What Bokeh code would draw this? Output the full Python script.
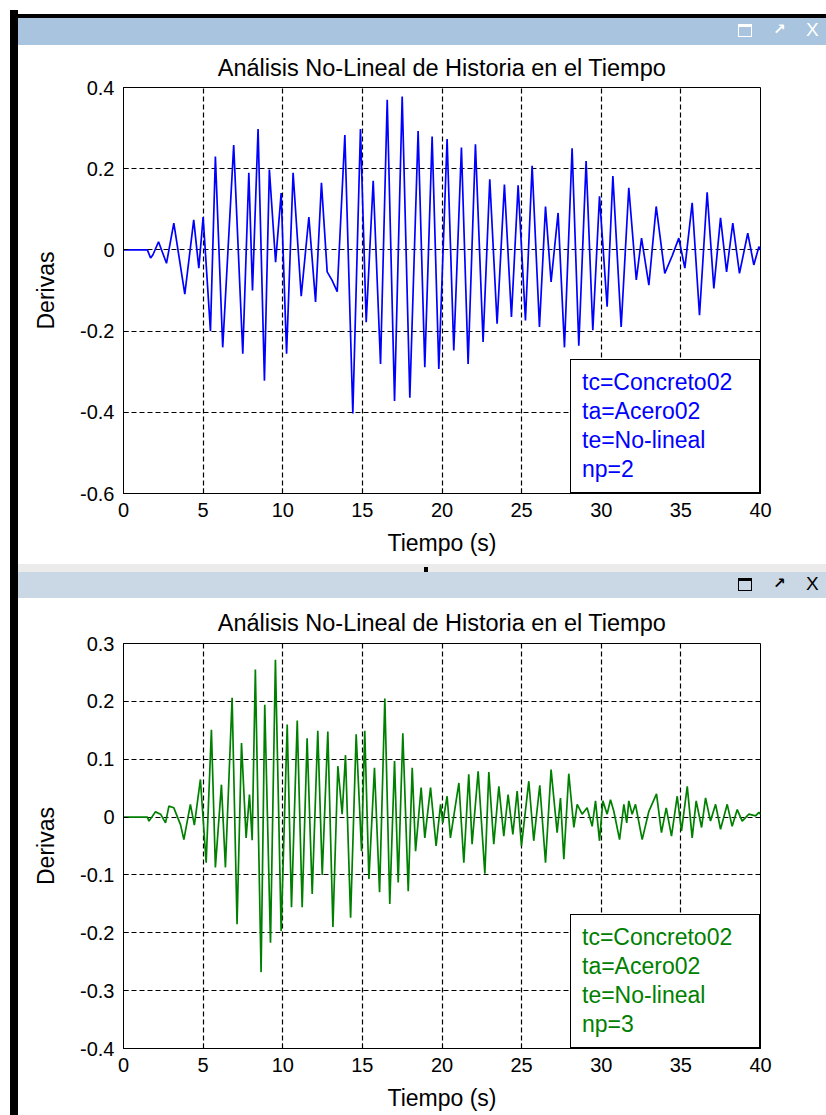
from bokeh.plotting import figure
from bokeh.models import Range1d, FixedTicker, Legend, LegendItem, Div
from bokeh.layouts import column, row
from bokeh.embed import file_html
from bokeh.resources import INLINE

FONT = "Liberation Sans"

# ---------------- data ----------------
time_top = [0.0, 1.5, 1.7, 1.85, 2.2, 2.7, 3.16, 3.85, 4.41, 4.73, 5.0, 5.46, 5.77, 6.23, 6.92,
            7.49, 7.87, 8.1, 8.45, 8.85, 9.16, 9.55, 9.9, 10.24, 10.65, 11.16, 11.64, 12.06,
            12.43, 12.79, 13.1, 13.42, 13.9, 14.4, 14.88, 15.24, 15.68, 16.14, 16.56, 17.02,
            17.5, 17.98, 18.5, 18.92, 19.38, 19.8, 20.32, 20.74, 21.22, 21.64, 22.1, 22.58,
            23.0, 23.46, 23.92, 24.36, 24.78, 25.24, 25.66, 26.12, 26.5, 26.85, 27.29, 27.69,
            28.17, 28.59, 29.05, 29.47, 29.89, 30.37, 30.73, 31.25, 31.73, 32.2, 32.53, 32.99,
            33.45, 33.99, 34.45, 34.87, 35.25, 35.71, 36.17, 36.65, 37.07, 37.49, 37.87, 38.26,
            38.68, 39.2, 39.58, 39.9, 40.0]
drift_top = [0.0, 0.0, -0.02, -0.012, 0.02, -0.033, 0.066, -0.109, 0.074, -0.045, 0.081, -0.2,
             0.23, -0.24, 0.258, -0.256, 0.19, -0.1, 0.298, -0.322, 0.198, -0.03, 0.14, -0.256,
             0.19, -0.114, 0.081, -0.128, 0.165, -0.054, -0.075, -0.103, 0.283, -0.403, 0.298,
             -0.178, 0.17, -0.281, 0.37, -0.372, 0.378, -0.364, 0.293, -0.289, 0.279, -0.293,
             0.273, -0.248, 0.252, -0.281, 0.26, -0.227, 0.174, -0.182, 0.161, -0.165, 0.159,
             -0.174, 0.207, -0.19, 0.107, -0.079, 0.091, -0.24, 0.25, -0.236, 0.219, -0.198,
             0.132, -0.14, 0.182, -0.19, 0.153, -0.074, 0.029, -0.087, 0.107, -0.058, -0.015,
             0.029, -0.045, 0.116, -0.161, 0.142, -0.095, 0.079, -0.054, 0.066, -0.058, 0.041,
             -0.037, 0.008, 0.0]

time_bottom = [0.0, 1.5, 1.6, 2.01, 2.33, 2.64, 2.85, 3.16, 3.58, 3.79, 4.2, 4.45, 4.83, 5.19,
               5.52, 5.77, 6.15, 6.4, 6.82, 7.13, 7.41, 7.7, 7.91, 8.08, 8.28, 8.64, 8.87, 9.23,
               9.54, 9.9, 10.28, 10.55, 10.91, 11.22, 11.53, 11.85, 12.2, 12.48, 12.83, 13.15,
               13.46, 13.73, 13.94, 14.26, 14.61, 14.95, 15.15, 15.41, 15.76, 16.08, 16.41,
               16.72, 17.02, 17.25, 17.54, 17.88, 18.13, 18.34, 18.69, 18.92, 19.28, 19.63,
               19.91, 20.05, 20.32, 20.53, 21.06, 21.37, 21.68, 21.89, 22.27, 22.69, 22.94,
               23.25, 23.57, 23.88, 24.15, 24.45, 24.72, 24.99, 25.45, 25.76, 26.14, 26.5,
               26.85, 27.23, 27.44, 27.65, 27.96, 28.28, 28.49, 28.8, 29.11, 29.43, 29.64,
               29.89, 30.1, 30.37, 30.58, 30.79, 31.15, 31.42, 31.6, 31.73, 31.94, 32.15,
               32.57, 32.99, 33.47, 33.78, 34.08, 34.41, 34.77, 35.04, 35.4, 35.71, 35.96,
               36.3, 36.55, 36.86, 37.18, 37.49, 37.91, 38.22, 38.54, 38.85, 39.27, 39.69,
               39.9, 40.0]
drift_bottom = [0.0, 0.0, -0.007, 0.009, 0.005, -0.01, 0.019, 0.016, -0.013, -0.039, 0.022,
                -0.014, 0.065, -0.079, 0.151, -0.087, 0.056, -0.087, 0.206, -0.185, 0.128,
                -0.036, 0.039, -0.04, 0.255, -0.268, 0.194, -0.217, 0.272, -0.197, 0.16, -0.156,
                0.167, -0.156, 0.136, -0.133, 0.149, -0.1, 0.148, -0.19, 0.088, 0.005, 0.107,
                -0.174, 0.143, -0.059, 0.149, -0.107, 0.085, -0.13, 0.205, -0.15, 0.097, -0.113,
                0.145, -0.128, 0.085, -0.059, 0.051, -0.036, 0.051, -0.05, 0.022, -0.01, 0.036,
                -0.036, 0.059, -0.079, 0.074, -0.047, 0.079, -0.098, 0.078, -0.047, 0.053,
                -0.033, 0.039, -0.03, 0.045, -0.05, 0.062, -0.041, 0.055, -0.079, 0.082,
                -0.027, 0.033, -0.073, 0.075, -0.018, 0.022, 0.005, 0.016, -0.016, 0.028,
                -0.041, 0.028, 0.005, 0.03, 0.01, -0.039, 0.022, -0.01, 0.028, 0.005, 0.022,
                -0.039, 0.01, 0.04, -0.027, 0.016, -0.033, 0.036, -0.024, 0.053, -0.036, 0.028,
                -0.018, 0.033, -0.007, 0.022, -0.021, 0.022, -0.016, 0.013, -0.007, 0.005,
                0.002, 0.008, 0.005]

x_ticks = [0, 5, 10, 15, 20, 25, 30, 35, 40]
x_tick_labels = ["0", "5", "10", "15", "20", "25", "30", "35", "40"]
y_ticks_top = [-0.6, -0.4, -0.2, 0, 0.2, 0.4]
y_tick_labels_top = ["-0.6", "-0.4", "-0.2", "0", "0.2", "0.4"]
y_ticks_bottom = [-0.4, -0.3, -0.2, -0.1, 0, 0.1, 0.2, 0.3]
y_tick_labels_bottom = ["-0.4", "-0.3", "-0.2", "-0.1", "0", "0.1", "0.2", "0.3"]
legend_top = ["tc=Concreto02", "ta=Acero02", "te=No-lineal", "np=2"]
legend_bottom = ["tc=Concreto02", "ta=Acero02", "te=No-lineal", "np=3"]
title_text = "Análisis No-Lineal de Historia en el Tiempo"
x_label = "Tiempo (s)"
y_label = "Derivas"


def make_panel(height, yr, yticks, ylabels, xs, ys, color, legend_labels, mb_top, mb_bottom, title_standoff):
    p = figure(width=808, height=height, x_range=Range1d(0, 40), y_range=Range1d(*yr),
               output_backend="svg", toolbar_location=None,
               min_border_left=105, min_border_right=66,
               min_border_top=mb_top, min_border_bottom=mb_bottom,
               background_fill_color="white", border_fill_color="white")
    p.title.text = title_text
    p.title.align = "center"
    p.title.text_font = FONT
    p.title.text_font_size = "23.5px"
    p.title.text_font_style = "normal"
    p.title.text_color = "black"
    p.title.standoff = title_standoff

    p.outline_line_color = "black"
    p.outline_line_width = 1
    p.outline_line_alpha = 1

    p.xaxis.ticker = FixedTicker(ticks=x_ticks)
    p.xaxis.major_label_overrides = dict(zip(x_ticks, x_tick_labels))
    p.yaxis.ticker = FixedTicker(ticks=yticks)
    p.yaxis.major_label_overrides = dict(zip(yticks, ylabels))
    p.xaxis.axis_label = x_label
    p.yaxis.axis_label = y_label
    for ax in (p.xaxis[0], p.yaxis[0]):
        ax.major_tick_in = 5
        ax.major_tick_out = 0
        ax.minor_tick_line_color = None
        ax.axis_line_color = "black"
        ax.major_tick_line_color = "black"
        ax.major_label_text_font = FONT
        ax.major_label_text_font_size = "20px"
        ax.major_label_text_color = "black"
        ax.major_label_standoff = 9
        ax.axis_label_text_font = FONT
        ax.axis_label_text_font_size = "23px"
        ax.axis_label_text_font_style = "normal"
        ax.axis_label_text_color = "black"
    p.xaxis.axis_label_standoff = 10
    p.yaxis.axis_label_standoff = 18

    p.xgrid.ticker = FixedTicker(ticks=x_ticks)
    p.ygrid.ticker = FixedTicker(ticks=yticks)
    p.grid.grid_line_color = "black"
    p.grid.grid_line_dash = "5 3"
    p.grid.grid_line_alpha = 1
    p.grid.grid_line_width = 1.2

    p.line(xs, ys, line_color=color, line_width=1.7)

    dummies = [p.line(x=[], y=[], line_alpha=0) for _ in legend_labels]
    leg = Legend(items=[LegendItem(label=l, renderers=[r]) for l, r in zip(legend_labels, dummies)],
                 location="bottom_right", margin=0, padding=8, spacing=0,
                 glyph_width=0, glyph_height=29, label_height=29, label_width=169,
                 label_standoff=3, border_line_color="black", border_line_width=1.2,
                 border_line_alpha=1, background_fill_color="white", background_fill_alpha=1,
                 label_text_font=FONT, label_text_font_size="23px", label_text_color=color)
    p.add_layout(leg)
    return p


def title_bar(bg, fg, h):
    html = (f'<div style="position:relative;width:808px;height:{h}px;background:{bg};overflow:hidden;">'
            f'<div style="position:absolute;left:720px;top:{h//2-7}px;width:14px;height:13px;'
            f'border:1.5px solid {fg};border-top-width:3px;box-sizing:border-box;"></div>'
            f'<div style="position:absolute;left:755px;top:{h//2-11}px;font:bold 15px DejaVu Sans;color:{fg};">&#8599;</div>'
            f'<div style="position:absolute;left:788px;top:{h//2-12}px;font:19px Liberation Sans;color:{fg};">X</div>'
            '</div>')
    return Div(text=html, width=808, height=h, margin=0)


left = Div(text='<div style="position:relative;width:18px;height:1115px;background:white;">'
                '<div style="position:absolute;left:10px;top:10px;width:8px;height:1105px;background:black;"></div></div>',
           width=18, height=1115, margin=0)
top_white = Div(text='<div style="width:808px;height:10px;background:white;"></div>', width=808, height=10, margin=0)
top_black = Div(text='<div style="width:808px;height:8px;background:black;"></div>', width=808, height=8, margin=0)
bar1 = title_bar("#a9c4de", "white", 27)
p1 = make_panel(517, (-0.6, 0.4), y_ticks_top, y_tick_labels_top, time_top, drift_top,
                "#0000ff", legend_top, 42, 69, 13)
sep = Div(text='<div style="position:relative;width:808px;height:10px;background:#ebebeb;">'
               '<div style="position:absolute;left:406px;top:3px;width:4px;height:5px;background:black;"></div></div>',
          width=808, height=10, margin=0)
bar2 = title_bar("#cad8e6", "black", 26)
p2 = make_panel(517, (-0.4, 0.3), y_ticks_bottom, y_tick_labels_bottom, time_bottom, drift_bottom,
                "#008000", legend_bottom, 45, 67, 16)

layout = row(left, column(top_white, top_black, bar1, p1, sep, bar2, p2, spacing=0), spacing=0)

open("out.html", "w").write(file_html(layout, INLINE))
